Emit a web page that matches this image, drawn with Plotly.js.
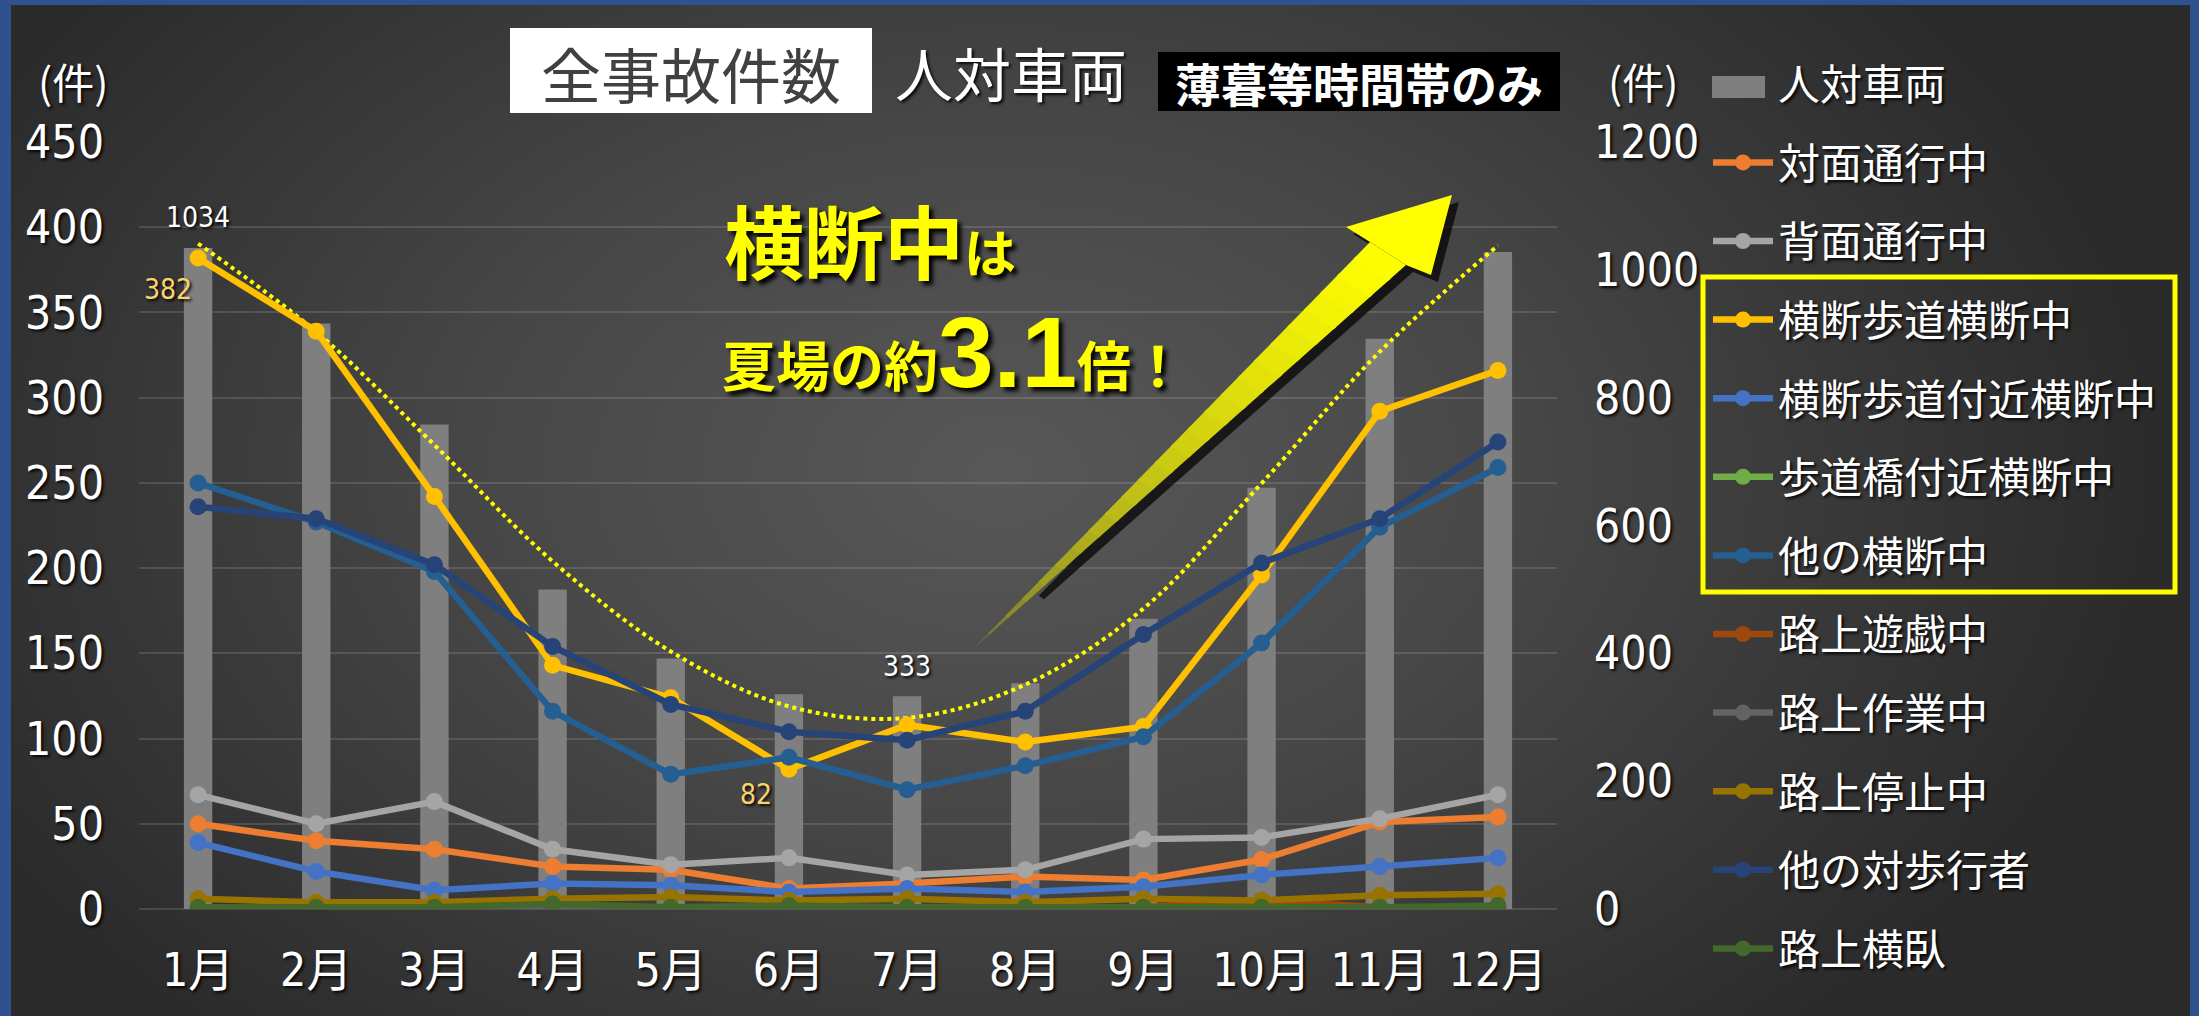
<!DOCTYPE html>
<html><head><meta charset="utf-8">
<script src="https://cdn.plot.ly/plotly-3.0.1.min.js"></script>
<style>
html,body{margin:0;padding:0;background:#2a2a2a;}
#wrap{position:relative;width:2199px;height:1016px;overflow:hidden;
 background: radial-gradient(ellipse 1150px 760px at 1000px 470px, #585858 0%, #474747 45%, #2b2b2b 100%);}
#chart{position:absolute;left:0;top:0;width:2199px;height:1016px;}
#frame{position:absolute;left:0;top:0;width:2199px;height:1016px;pointer-events:none;
 box-shadow: inset 11px 5px 0 0 #2F528F, inset -9px 0 0 0 #2F528F;}
</style></head>
<body><div id="wrap"><div id="chart"></div><div id="frame"></div></div>
<script>
// ---------------- data ----------------
const months = ['1月','2月','3月','4月','5月','6月','7月','8月','9月','10月','11月','12月'];
const pedVehicle      = [1034, 916, 758, 500, 392, 336, 333, 353, 454, 659, 892, 1028]; // 人対車両 (右軸)
const pedVehicleTrend = [1041, 903, 726, 544, 403, 317, 299, 351, 470, 666, 872, 1038]; // 点線トレンド (右軸)
const headOn        = [50, 40, 35, 25, 23, 12, 15, 19, 17, 29, 51, 54];       // 対面通行中
const fromBehind    = [67, 50, 63, 35, 26, 30, 20, 23, 41, 42, 53, 67];       // 背面通行中
const onCrosswalk   = [382, 339, 242, 143, 124, 82, 108, 98, 107, 196, 292, 316]; // 横断歩道横断中
const nearCrosswalk = [39, 22, 11, 15, 14, 10, 12, 10, 13, 20, 25, 30];       // 横断歩道付近横断中
const nearBridge    = [0, 0, 0, 1, 0, 0, 0, 0, 0, 0, 0, 0];                   // 歩道橋付近横断中
const otherCrossing = [250, 227, 198, 116, 79, 89, 70, 84, 101, 156, 224, 259]; // 他の横断中
const playing       = [0, 0, 0, 0, 0, 0, 0, 0, 1, 5, 1, 0];                   // 路上遊戯中
const working       = [1, 1, 1, 1, 1, 1, 1, 1, 1, 1, 1, 1];                   // 路上作業中
const stopped       = [6, 4, 4, 6, 7, 5, 6, 4, 6, 5, 8, 9];                   // 路上停止中
const otherPed      = [236, 229, 202, 154, 120, 104, 99, 116, 161, 203, 229, 274]; // 他の対歩行者
const lyingDown     = [1, 1, 1, 3, 1, 2, 1, 1, 1, 1, 1, 2];                   // 路上横臥

const lineSeries = [
  ['対面通行中', headOn, '#ED7D31'],
  ['背面通行中', fromBehind, '#A5A5A5'],
  ['横断歩道横断中', onCrosswalk, '#FFC000'],
  ['横断歩道付近横断中', nearCrosswalk, '#4472C4'],
  ['歩道橋付近横断中', nearBridge, '#70AD47'],
  ['他の横断中', otherCrossing, '#255E91'],
  ['路上遊戯中', playing, '#9E480E'],
  ['路上作業中', working, '#636363'],
  ['路上停止中', stopped, '#997300'],
  ['他の対歩行者', otherPed, '#264478'],
  ['路上横臥', lyingDown, '#43682B']
];

// ---------------- layout helpers ----------------
const FW = 2199, FH = 1016;
const L = 139, T = 142, R = 642, B = 107;
const W = FW - L - R, H = FH - T - B;
const px = x => (x - L) / W;
const py = y => (T + H - y) / H;

const narrow = '"Liberation Sans Narrow", "Arial Narrow", "DejaVu Sans Condensed", "Noto Sans CJK JP", sans-serif';
const jp = '"Noto Sans CJK JP", "Noto Sans", sans-serif';
const shadow = '2px 2px 3px rgba(0,0,0,0.9)';

// ---------------- traces ----------------
const traces = [];
traces.push({
  type: 'bar', x: months, y: pedVehicle, name: '人対車両', yaxis: 'y',
  marker: {color: '#7F7F7F'}, legendgroup: 'g0', hoverinfo: 'x+y'
});
traces.push({
  type: 'scatter', mode: 'lines', x: months, y: pedVehicleTrend, yaxis: 'y',
  line: {color: '#FFFF00', width: 4, dash: 'dot', shape: 'spline', smoothing: 1},
  showlegend: false, hoverinfo: 'skip'
});
lineSeries.forEach(([name, vals, color], i) => {
  traces.push({
    type: 'scatter', mode: 'lines+markers', x: months, y: vals, name: name, yaxis: 'y2',
    line: {color: color, width: 6.5}, marker: {color: color, size: 17},
    legendgroup: 'g' + (i + 1)
  });
});

// ---------------- arrow shapes ----------------
function pathFrom(pts, dx, dy) {
  dx = dx || 0; dy = dy || 0;
  return 'M' + pts.map(p => px(p[0] + dx) + ',' + py(p[1] + dy)).join('L') + 'Z';
}
const tip = [1452, 195], barbL = [1346, 227], innL = [1370, 242], barbR = [1431, 275], innR = [1406, 265], tail = [972, 650];
const shapes = [];
// shadow
shapes.push({type: 'path', xref: 'paper', yref: 'paper', layer: 'above',
  path: pathFrom([lerpPt(tail, innL, 0.15), innL, barbL, tip, barbR, innR, lerpPt(tail, innR, 0.15)], 7, 7),
  fillcolor: 'rgba(0,0,0,0.7)', line: {width: 0}});
function lerpPt(a, b, t) { return [a[0] + (b[0] - a[0]) * t, a[1] + (b[1] - a[1]) * t]; }
const N = 24;
for (let i = 0; i < N; i++) {
  const t0 = i / N, t1 = Math.min(1, (i + 1.15) / N);
  const tm = Math.sqrt((i + 0.5) / N);
  const r = Math.round(85 + (255 - 85) * tm), g = Math.round(85 + (255 - 85) * tm), b = Math.round(60 * (1 - tm));
  shapes.push({type: 'path', xref: 'paper', yref: 'paper', layer: 'above',
    path: pathFrom([lerpPt(tail, innL, t0), lerpPt(tail, innL, t1), lerpPt(tail, innR, t1), lerpPt(tail, innR, t0)]),
    fillcolor: `rgb(${r},${g},${b})`, line: {width: 0}});
}
shapes.push({type: 'path', xref: 'paper', yref: 'paper', layer: 'above',
  path: pathFrom([innL, barbL, tip, barbR, innR]), fillcolor: '#FFFF00', line: {width: 0}});

// title boxes
shapes.push({type: 'rect', xref: 'paper', yref: 'paper', layer: 'above',
  x0: px(510), x1: px(872), y0: py(113), y1: py(28), fillcolor: '#FFFFFF', line: {width: 0}});
shapes.push({type: 'rect', xref: 'paper', yref: 'paper', layer: 'above',
  x0: px(1158), x1: px(1560), y0: py(111), y1: py(52), fillcolor: '#000000', line: {width: 0}});
// legend highlight box
shapes.push({type: 'rect', xref: 'paper', yref: 'paper', layer: 'above',
  x0: px(1703), x1: px(2175), y0: py(592), y1: py(277), fillcolor: 'rgba(0,0,0,0)',
  line: {color: '#FFFF00', width: 5}});
// larger legend key for the bar series
shapes.push({type: 'rect', xref: 'paper', yref: 'paper', layer: 'above',
  x0: px(1712), x1: px(1765), y0: py(98), y1: py(76), fillcolor: '#7F7F7F', line: {width: 0}});

// ---------------- annotations ----------------
const annotations = [
  {xref: 'paper', yref: 'paper', x: px(691), y: py(72), text: '全事故件数', showarrow: false,
   xanchor: 'center', yanchor: 'middle', font: {family: jp, size: 60, color: '#404040'}},
  {xref: 'paper', yref: 'paper', x: px(1011), y: py(72), text: '人対車両', showarrow: false,
   xanchor: 'center', yanchor: 'middle', font: {family: jp, size: 58, color: '#FFFFFF', shadow: shadow}},
  {xref: 'paper', yref: 'paper', x: px(1359), y: py(82), text: '薄暮等時間帯のみ', showarrow: false,
   xanchor: 'center', yanchor: 'middle', font: {family: jp, size: 46, color: '#FFFFFF', weight: 'bold'}},
  {xref: 'paper', yref: 'paper', x: px(722), y: py(238), text: '横断中<span style="font-size:52px">は</span>', showarrow: false,
   xanchor: 'left', yanchor: 'middle', font: {family: jp, size: 80, color: '#FFFF00', weight: 'bold', shadow: '4px 4px 4px #000'}},
  {xref: 'paper', yref: 'paper', x: px(720), y: py(352), text: '夏場の約<span style="font-size:100px;font-family:Liberation Sans,Arial,sans-serif">3.1</span>倍！', showarrow: false,
   xanchor: 'left', yanchor: 'middle', font: {family: jp, size: 54, color: '#FFFF00', weight: 'bold', shadow: '4px 4px 4px #000'}},
  {xref: 'paper', yref: 'paper', x: px(73), y: py(80), text: '(件)', showarrow: false,
   xanchor: 'center', yanchor: 'middle', font: {family: jp, size: 42, color: '#FFFFFF', shadow: shadow}},
  {xref: 'paper', yref: 'paper', x: px(1643), y: py(80), text: '(件)', showarrow: false,
   xanchor: 'center', yanchor: 'middle', font: {family: jp, size: 42, color: '#FFFFFF', shadow: shadow}},
  // data labels
  {xref: 'x', yref: 'y', x: months[0], y: pedVehicle[0], text: String(pedVehicle[0]), showarrow: false,
   yshift: 31, font: {family: narrow, size: 28, color: '#FFFFFF', shadow: shadow}},
  {xref: 'x', yref: 'y', x: months[6], y: pedVehicle[6], text: String(pedVehicle[6]), showarrow: false,
   yshift: 30, font: {family: narrow, size: 28, color: '#FFFFFF', shadow: shadow}},
  {xref: 'x', yref: 'y2', x: months[0], y: onCrosswalk[0], text: String(onCrosswalk[0]), showarrow: false,
   xshift: -30, yshift: -32, font: {family: narrow, size: 28, color: '#FFD36B', shadow: shadow}},
  {xref: 'x', yref: 'y2', x: months[5], y: onCrosswalk[5], text: String(onCrosswalk[5]), showarrow: false,
   xshift: -33, yshift: -25, font: {family: narrow, size: 28, color: '#FFD36B', shadow: shadow}}
];

const tickFont = {family: narrow, size: 46, color: '#FFFFFF', shadow: shadow};

const layout = {
  width: FW, height: FH,
  margin: {l: L, r: R, t: T, b: B, pad: 0},
  paper_bgcolor: 'rgba(0,0,0,0)', plot_bgcolor: 'rgba(0,0,0,0)',
  bargap: 0.76,
  showlegend: true,
  legend: {
    x: px(1708), y: py(50), xanchor: 'left', yanchor: 'top',
    bgcolor: 'rgba(0,0,0,0)', borderwidth: 0, maxheight: 1000,
    font: {family: jp, size: 42, color: '#FFFFFF', shadow: shadow},
    tracegroupgap: 21, itemwidth: 60, traceorder: 'grouped'
  },
  xaxis: {
    type: 'category', range: [-0.5, 11.5], showgrid: false, zeroline: false, showline: false,
    ticks: '', tickfont: tickFont, ticklabelstandoff: 30, fixedrange: true
  },
  yaxis: {
    side: 'right', range: [0, 1200], dtick: 200, tick0: 0, showgrid: false, zeroline: false,
    showline: false, ticks: '', tickfont: tickFont, ticklabelstandoff: 36
  },
  yaxis2: {
    side: 'left', overlaying: 'y', range: [0, 450], dtick: 50, tick0: 0,
    showgrid: true, gridcolor: 'rgba(255,255,255,0.13)', gridwidth: 2,
    zeroline: true, zerolinecolor: 'rgba(255,255,255,0.13)', zerolinewidth: 2,
    showline: false, ticks: '', tickfont: tickFont, ticklabelstandoff: 34
  },
  shapes: shapes,
  annotations: annotations
};

Plotly.newPlot('chart', traces, layout, {displayModeBar: false, staticPlot: true});
</script></body></html>
